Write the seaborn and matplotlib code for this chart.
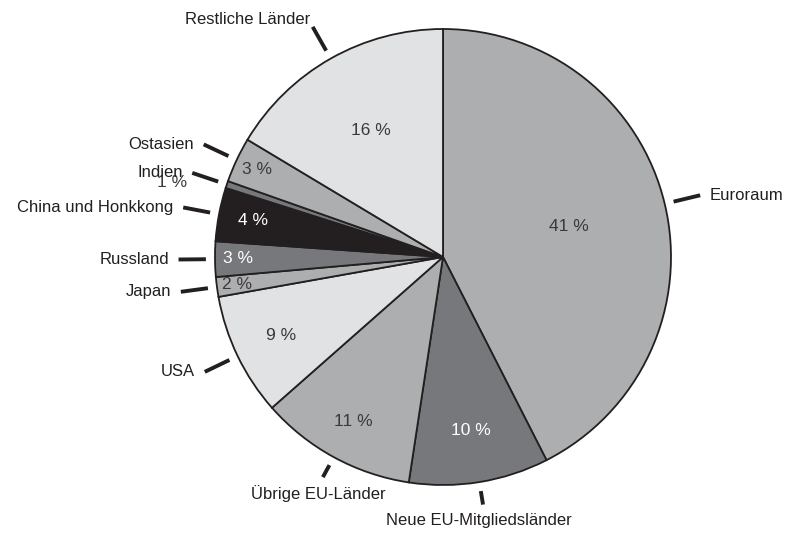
import numpy as np
import seaborn as sns
from matplotlib import pyplot as plt

# data ---------------------------------------------------------------------
regions = ["Euroraum", "Neue EU-Mitgliedsländer", "Übrige EU-Länder", "USA", "Japan",
           "Russland", "China und Honkkong", "Indien", "Ostasien", "Restliche Länder"]
shares = [42.5, 9.9, 11.1, 8.7, 1.4, 2.5, 3.8, 0.5, 3.2, 16.4]
pct_labels = ["41 %", "10 %", "11 %", "9 %", "2 %", "3 %", "4 %", "1 %", "3 %", "16 %"]

# style --------------------------------------------------------------------
LIGHT, MID, DARK, BLACK = "#e1e2e3", "#adaeb0", "#77787b", "#231f20"
colors = [MID, DARK, MID, LIGHT, MID, DARK, BLACK, DARK, MID, LIGHT]
pct_colors = ["#3a3a3a", "white", "#3a3a3a", "#3a3a3a", "#3a3a3a",
              "white", "white", "#3a3a3a", "#3a3a3a", "#3a3a3a"]
# where the percentage sits: fraction of radius, and a small angle nudge
pct_r = [0.57, 0.77, 0.82, 0.79, 0.91, 0.90, 0.85, 1.23, 0.90, 0.64]
pct_dt = [0, 0, 0, 0, 0, 0, 0, 3.2, 0, 0]

sns.set_theme(style="white")
plt.rcParams["font.family"] = ["Liberation Sans", "DejaVu Sans"]

W, H = 793, 533
fig = plt.figure(figsize=(W / 100, H / 100), dpi=100)
ax = fig.add_axes([0, 0, 1, 1])

cx, cy, R = 443, H - 257, 228
wedges, _ = ax.pie(shares, colors=colors, startangle=90, counterclock=False,
                   center=(cx, cy), radius=R,
                   wedgeprops=dict(edgecolor=BLACK, linewidth=1.3))

for w, name, pct, pc, pr, dt in zip(wedges, regions, pct_labels, pct_colors, pct_r, pct_dt):
    mid = (w.theta1 + w.theta2) / 2
    a = np.deg2rad(mid + dt)
    ax.text(cx + pr * R * np.cos(a), cy + pr * R * np.sin(a), pct, color=pc,
            fontsize=12.5, ha="center", va="center")

    c, s = np.cos(np.deg2rad(mid)), np.sin(np.deg2rad(mid))
    bottom = abs(c) <= 0.5 and s < 0
    r_out = 1.10 if bottom else 1.16
    x0, y0 = cx + 1.04 * R * c, cy + 1.04 * R * s
    x1, y1 = cx + r_out * R * c, cy + r_out * R * s
    ax.plot([x0, x1], [y0, y1], color=BLACK, lw=2.8, solid_capstyle="butt")
    if abs(c) > 0.5:
        ha, va = ("left" if c > 0 else "right"), "center"
        off = (7 if c > 0 else -7, 0)
    elif bottom:
        ha, va, off = "center", "top", (-3, -6)
    else:
        ha, va, off = "right", "bottom", (-2, 0)
    ax.annotate(name, (x1, y1), xytext=off, textcoords="offset points",
                ha=ha, va=va, fontsize=12, color=BLACK)

ax.set_xlim(0, W)
ax.set_ylim(0, H)
ax.set_aspect("auto")
ax.axis("off")

fig.savefig("out.png", dpi=100)
